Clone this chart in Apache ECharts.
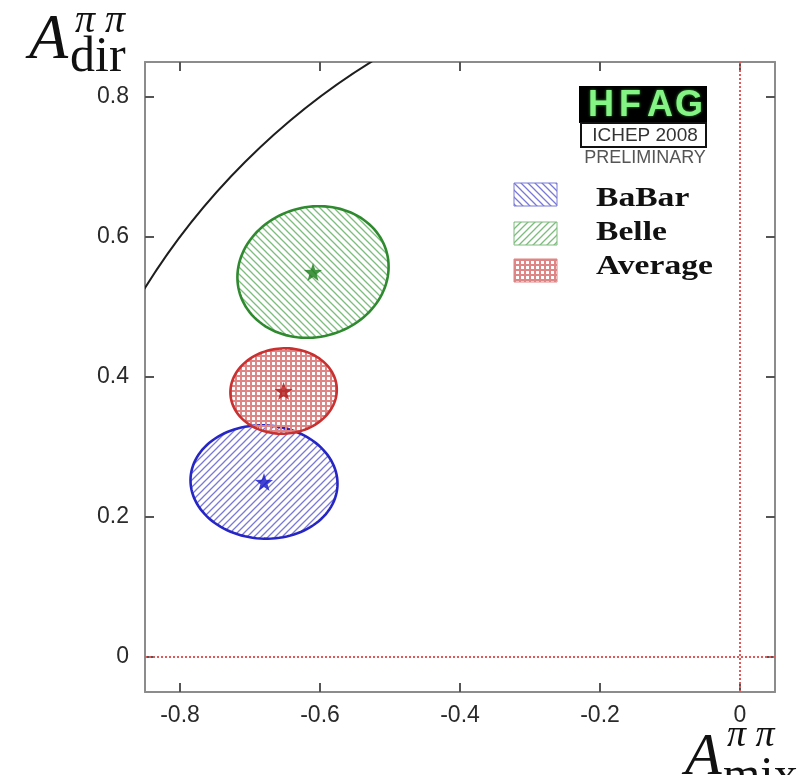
<!DOCTYPE html>
<html>
<head>
<meta charset="utf-8">
<script src="https://cdn.jsdelivr.net/npm/echarts@6/dist/echarts.min.js"></script>
<style>
  html, body { margin: 0; padding: 0; background: #ffffff; }
  #chart { width: 804px; height: 775px; }
</style>
</head>
<body>
<div id="chart"></div>
<script>
// Time-dependent CP asymmetries in B0 -> pi+ pi-: A_mix vs A_dir
const experiments = ['BaBar', 'Belle', 'Average'];
const mixCentral = [-0.680, -0.610, -0.652];
const dirCentral = [0.250, 0.550, 0.380];
const mixError = [0.105, 0.108, 0.076];
const dirError = [0.081, 0.094, 0.061];
const correlation = [-0.03, 0.08, 0.03];
const xTicks = [-0.8, -0.6, -0.4, -0.2, 0];
const yTicks = [0, 0.2, 0.4, 0.6, 0.8];
const boundaryRadius = 1;   // physical region: A_mix^2 + A_dir^2 <= 1

// drawing styles
const outlineColors = ['#2626c4', '#2f8a2f', '#c93030'];
const hatchColors = ['#7a7ad6', '#7cbc7c', '#de8585'];
const starColors = ['#1515c8', '#167a16', '#b01818'];
const ellipseHatch = ['/', '\\', '#'];
const legendHatch = ['\\', '/', '#'];
const FRAME = '#8c8c8c';
const TICK_FONT = '"Liberation Sans", Arial, sans-serif';
const SERIF = '"Liberation Serif", "Times New Roman", serif';

function makePattern(color, kind) {
  const s = kind === '#' ? 5 : 7;
  const c = document.createElement('canvas');
  c.width = s; c.height = s;
  const g = c.getContext('2d');
  g.strokeStyle = color;
  g.fillStyle = color;
  if (kind === '#') {
    g.fillRect(0, 0, s, 2);
    g.fillRect(0, 0, 2, s);
  } else {
    g.lineWidth = 1.3;
    g.beginPath();
    if (kind === '/') {
      g.moveTo(0, s); g.lineTo(s, 0);
      g.moveTo(-1, 1); g.lineTo(1, -1);
      g.moveTo(s - 1, s + 1); g.lineTo(s + 1, s - 1);
    } else {
      g.moveTo(0, 0); g.lineTo(s, s);
      g.moveTo(s - 1, -1); g.lineTo(s + 1, 1);
      g.moveTo(-1, s - 1); g.lineTo(1, s + 1);
    }
    g.stroke();
  }
  return { image: c, repeat: 'repeat' };
}

function starPath() {
  const pts = [];
  for (let k = 0; k < 10; k++) {
    const r = k % 2 === 0 ? 10 : 4;
    const a = -Math.PI / 2 + k * Math.PI / 5;
    pts.push((10 + r * Math.cos(a)).toFixed(2) + ' ' + (10 + r * Math.sin(a)).toFixed(2));
  }
  return 'path://M' + pts.join(' L') + ' Z';
}

const ellipseData = experiments.map((name, i) =>
  [mixCentral[i], dirCentral[i], mixError[i], dirError[i], correlation[i]]);

function renderEllipse(params, api) {
  const i = params.dataIndex;
  const cx = api.value(0), cy = api.value(1);
  const sx = api.value(2), sy = api.value(3), rho = api.value(4);
  const pts = [];
  const n = 120;
  for (let k = 0; k < n; k++) {
    const t = 2 * Math.PI * k / n;
    const x = cx + sx * Math.cos(t);
    const y = cy + sy * (rho * Math.cos(t) + Math.sqrt(1 - rho * rho) * Math.sin(t));
    pts.push(api.coord([x, y]));
  }
  return {
    type: 'group',
    children: [
      { type: 'polygon', shape: { points: pts },
        style: { fill: makePattern(hatchColors[i], ellipseHatch[i]), stroke: null } },
      { type: 'polygon', shape: { points: pts },
        style: { fill: null, stroke: outlineColors[i], lineWidth: 2.6 } }
    ]
  };
}

function renderBoundary(params, api) {
  const c = api.coord([api.value(0), api.value(1)]);
  const r = api.size([api.value(2), 0])[0];
  const cs = params.coordSys;
  return {
    type: 'circle',
    shape: { cx: c[0], cy: c[1], r: r },
    style: { fill: null, stroke: '#1e1e1e', lineWidth: 2 },
    clipPath: { type: 'rect', shape: { x: cs.x, y: cs.y, width: cs.width, height: cs.height } }
  };
}

const fmt = v => String(Math.round(v * 10) / 10);

function axis(pos, min, max, ticks, showLabel) {
  return {
    type: 'value', position: pos, min: min, max: max,
    axisLine: { show: true, onZero: false, lineStyle: { color: FRAME, width: 2 } },
    axisTick: { show: true, inside: true, length: 9, customValues: ticks,
      lineStyle: { color: '#555', width: 2 } },
    axisLabel: { show: showLabel, customValues: ticks, formatter: fmt,
      fontFamily: TICK_FONT, fontSize: 23, color: '#2a2a2a',
      margin: pos === 'bottom' ? 12 : 16 },
    splitLine: { show: false }
  };
}

// legend swatches and labels
const legendGraphics = [];
const swatchTop = [183, 222, 259];
const labelMid = [199, 233, 267];
experiments.forEach((name, i) => {
  legendGraphics.push({
    type: 'rect', x: 514, y: swatchTop[i],
    shape: { x: 0, y: 0, width: 43, height: 23 },
    style: { fill: makePattern(hatchColors[i], legendHatch[i]), stroke: hatchColors[i], lineWidth: 1 }
  });
  legendGraphics.push({
    type: 'text', x: 596, y: labelMid[i], scaleX: 1.2,
    style: { text: name, font: 'bold 28px ' + SERIF, fill: '#111', align: 'left', verticalAlign: 'middle' }
  });
});

// HFAG logo block
const logo = [
  { type: 'rect', x: 579, y: 86, shape: { x: 0, y: 0, width: 128, height: 37 }, style: { fill: '#000' } },
  { type: 'rect', x: 581, y: 123, shape: { x: 0, y: 0, width: 125, height: 24 },
    style: { fill: '#fff', stroke: '#111', lineWidth: 2 } }
];
['H', 'F', 'A', 'G'].forEach((ch, k) => {
  logo.push({ type: 'text', x: [601, 630, 660, 689][k], y: 106,
    style: { text: ch, font: 'bold 36px ' + TICK_FONT, fill: '#84f584', align: 'center',
      verticalAlign: 'middle', textShadowColor: '#3aa03a', textShadowBlur: 3 } });
});
logo.push({ type: 'text', x: 645, y: 136,
  style: { text: 'ICHEP 2008', font: '19px ' + TICK_FONT, fill: '#333', align: 'center', verticalAlign: 'middle' } });
logo.push({ type: 'text', x: 645, y: 158,
  style: { text: 'PRELIMINARY', font: '18px ' + TICK_FONT, fill: '#555', align: 'center', verticalAlign: 'middle' } });

// axis titles
const titles = [
  { type: 'text', x: 29, y: 41, style: { text: 'A', font: 'italic 64px ' + SERIF, fill: '#111', verticalAlign: 'middle' } },
  { type: 'text', x: 75, y: 21, style: { text: 'π π', font: 'italic 40px ' + SERIF, fill: '#111', verticalAlign: 'middle' } },
  { type: 'text', x: 70, y: 58, style: { text: 'dir', font: '50px ' + SERIF, fill: '#111', verticalAlign: 'middle' } },
  { type: 'text', x: 685, y: 758, style: { text: 'A', font: 'italic 60px ' + SERIF, fill: '#111', verticalAlign: 'middle' } },
  { type: 'text', x: 727, y: 736, style: { text: 'π π', font: 'italic 38px ' + SERIF, fill: '#111', verticalAlign: 'middle' } },
  { type: 'text', x: 723, y: 777, style: { text: 'mix', font: '48px ' + SERIF, fill: '#111', verticalAlign: 'middle' } }
];

const chart = echarts.init(document.getElementById('chart'), null, { renderer: 'canvas' });
chart.setOption({
  animation: false,
  backgroundColor: '#ffffff',
  grid: { left: 145, top: 62, width: 630, height: 630 },
  xAxis: [axis('bottom', -0.85, 0.05, xTicks, true), axis('top', -0.85, 0.05, xTicks, false)],
  yAxis: [axis('left', -0.05, 0.85, yTicks, true), axis('right', -0.05, 0.85, yTicks, false)],
  series: [
    {
      type: 'custom', name: 'boundary', renderItem: renderBoundary,
      data: [[0, 0, boundaryRadius]], silent: true, z: 2
    },
    {
      type: 'custom', name: 'contours', renderItem: renderEllipse,
      data: ellipseData, silent: true, z: 3
    },
    {
      type: 'scatter', name: 'central values', z: 4,
      symbol: starPath(), symbolSize: 18,
      data: experiments.map((name, i) => ({
        value: [mixCentral[i], dirCentral[i]], itemStyle: { color: starColors[i] }
      })),
      markLine: {
        silent: true, symbol: ['none', 'none'], label: { show: false },
        lineStyle: { color: '#e05a5a', type: [2, 2], width: 2 },
        data: [{ xAxis: 0 }, { yAxis: 0 }]
      }
    }
  ],
  graphic: [...legendGraphics, ...logo, ...titles]
});
</script>
</body>
</html>
